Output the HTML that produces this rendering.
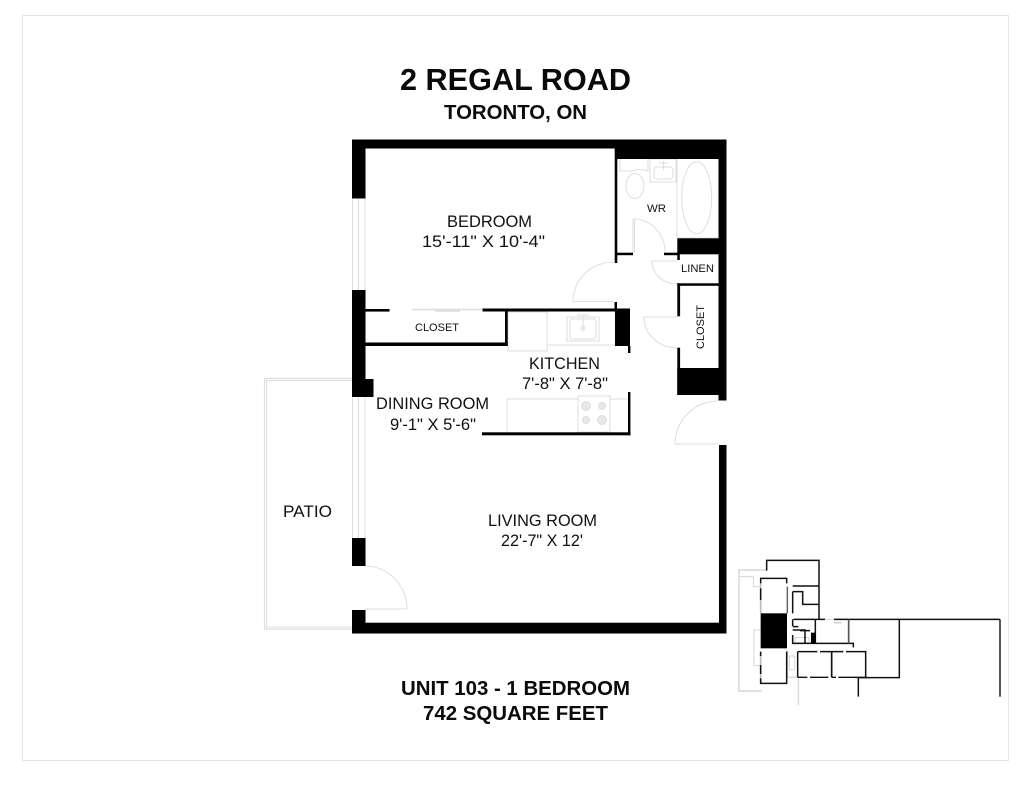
<!DOCTYPE html>
<html>
<head>
<meta charset="utf-8">
<style>
html,body{margin:0;padding:0;background:#fff;}
svg{display:block;}
text{font-family:"Liberation Sans",sans-serif;fill:#111;}
.b{font-weight:bold;fill:#0a0a0a;}
</style>
</head>
<body>
<svg width="1024" height="791" viewBox="0 0 1024 791" xmlns="http://www.w3.org/2000/svg">
<rect x="0" y="0" width="1024" height="791" fill="#fff"/>
<rect x="22.5" y="15.5" width="986" height="745" fill="#fff" stroke="#e4e4e4" stroke-width="1"/>

<!-- Titles -->
<text class="b" x="400" y="90" font-size="30.6" textLength="231" lengthAdjust="spacingAndGlyphs">2 REGAL ROAD</text>
<text class="b" x="444" y="119" font-size="20.4" textLength="143" lengthAdjust="spacingAndGlyphs">TORONTO, ON</text>
<text class="b" x="401" y="695" font-size="20.4" textLength="229" lengthAdjust="spacingAndGlyphs">UNIT 103 - 1 BEDROOM</text>
<text class="b" x="423" y="720" font-size="20.4" textLength="185" lengthAdjust="spacingAndGlyphs">742 SQUARE FEET</text>

<!-- Grey fine lines -->
<g fill="none" stroke="#dedede" stroke-width="1">
  <!-- windows -->
  <path d="M352.5 198V290M358.5 198V290M365 198V290"/>
  <path d="M352.5 397V538M358.5 397V538M365 397V538"/>
  <!-- patio -->
  <path d="M352 378.5H264.5V629H352" stroke-width="1.2"/>
  <path d="M352 380.5H266.5V627H352"/>
  <!-- patio door -->
  <path d="M365 566A42 43 0 0 1 407 609H365"/>
  <!-- closet sliders -->
  <path d="M412 309.5H482M435 311H460" stroke-width="1.5"/>
  <!-- entry door -->
  <path d="M718 401A43 43 0 0 0 675 444H718" />
  <!-- closet door -->
  <path d="M644 317H677M644 317A33 31 0 0 0 677 348"/>
  <!-- bedroom door -->
  <path d="M573 301.5H614M573 301.5A41 39 0 0 1 614 262"/>
  <!-- linen door -->
  <path d="M652 261H677M652 261A25 23 0 0 0 677 284"/>
  <!-- WR door -->
  <path d="M633 219V253M634.5 219V253M633 219A32 33 0 0 1 665 252"/>
  <!-- bath -->
  <path d="M677 159V238H718"/>
  <ellipse cx="696.7" cy="197.7" rx="15" ry="36"/>
  <ellipse cx="635" cy="186" rx="9" ry="12.5"/>
  <path d="M620 159V171H632Q640 168 648 171V159"/>
  <rect x="650" y="159" width="26" height="23"/>
  <rect x="654" y="167" width="19" height="12" rx="3"/>
  <path d="M659 163H668M663.5 161V170"/>
  <!-- kitchen -->
  <rect x="508" y="312" width="39" height="39"/>
  <path d="M547 345H615"/>
  <rect x="567" y="317" width="32" height="24"/>
  <rect x="570" y="319" width="26" height="20" rx="2"/>
  <path d="M583 315V330M577 315H589"/>
  <circle cx="583" cy="328" r="2"/>
  <path d="M507 399H578M610 399H628M507 399V432"/>
  <rect x="578" y="396" width="32" height="36"/>
  <circle cx="586" cy="406" r="4.5" fill="#e8e8e8"/>
  <circle cx="602" cy="406" r="3.5" fill="#e8e8e8"/>
  <circle cx="586" cy="420" r="3.5" fill="#e8e8e8"/>
  <circle cx="602" cy="420" r="4.5" fill="#e8e8e8"/>
</g>

<!-- Black walls -->
<g fill="#000">
  <rect x="352" y="139.5" width="374.5" height="9"/>
  <rect x="615" y="139.5" width="111.5" height="19.5"/>
  <rect x="352" y="139.5" width="13.5" height="59"/>
  <rect x="352" y="290" width="13.5" height="107"/>
  <rect x="365" y="379" width="8.5" height="18"/>
  <rect x="352" y="538" width="13.5" height="28"/>
  <rect x="352" y="610" width="13.5" height="23.5"/>
  <rect x="352" y="622.7" width="374.5" height="10.8"/>
  <rect x="718.5" y="139.5" width="8" height="261"/>
  <rect x="719" y="445" width="7.5" height="188"/>
  <!-- bedroom/bath wall -->
  <rect x="614.7" y="148" width="2.6" height="115"/>
  <rect x="617" y="252.7" width="16" height="2.5"/>
  <rect x="664" y="252.7" width="15" height="2.5"/>
  <rect x="677.3" y="238.3" width="41.5" height="16"/>
  <rect x="677.3" y="254" width="2.5" height="6"/>
  <rect x="677.3" y="283.3" width="41.5" height="2.5"/>
  <rect x="677.3" y="283.3" width="2.8" height="33"/>
  <rect x="677.3" y="347.7" width="2.8" height="47.3"/>
  <rect x="677.3" y="368" width="41.5" height="27"/>
  <!-- closet -->
  <rect x="365" y="309" width="24.5" height="2.6"/>
  <rect x="482.5" y="308.5" width="133.5" height="3"/>
  <rect x="365" y="342.5" width="142.7" height="3.5"/>
  <rect x="505" y="308.5" width="2.7" height="37.5"/>
  <!-- kitchen -->
  <rect x="614.5" y="302" width="2.5" height="9"/>
  <rect x="615" y="308.5" width="15" height="37.5"/>
  <rect x="628" y="346" width="2.4" height="7"/>
  <rect x="628" y="392" width="2.4" height="43.3"/>
  <rect x="482" y="432.3" width="148.4" height="3"/>
</g>

<!-- Room labels -->
<text x="447" y="227" font-size="16.4" textLength="85" lengthAdjust="spacingAndGlyphs">BEDROOM</text>
<text x="422" y="247" font-size="16.4" textLength="123" lengthAdjust="spacingAndGlyphs">15'-11" X 10'-4"</text>
<text x="647" y="212" font-size="11.4" textLength="19" lengthAdjust="spacingAndGlyphs">WR</text>
<text x="681" y="272" font-size="11.2" textLength="33" lengthAdjust="spacingAndGlyphs">LINEN</text>
<text x="415" y="331" font-size="11" textLength="44" lengthAdjust="spacingAndGlyphs">CLOSET</text>
<text transform="translate(704,349) rotate(-90)" x="0" y="0" font-size="11" textLength="44" lengthAdjust="spacingAndGlyphs">CLOSET</text>
<text x="529" y="369" font-size="16.4" textLength="71" lengthAdjust="spacingAndGlyphs">KITCHEN</text>
<text x="522" y="389" font-size="16.4" textLength="86" lengthAdjust="spacingAndGlyphs">7'-8" X 7'-8"</text>
<text x="376" y="409" font-size="16.4" textLength="113" lengthAdjust="spacingAndGlyphs">DINING ROOM</text>
<text x="390" y="430" font-size="16.4" textLength="86" lengthAdjust="spacingAndGlyphs">9'-1" X 5'-6"</text>
<text x="488" y="526" font-size="16.4" textLength="109" lengthAdjust="spacingAndGlyphs">LIVING ROOM</text>
<text x="501" y="546" font-size="16.4" textLength="82" lengthAdjust="spacingAndGlyphs">22'-7" X 12'</text>
<text x="283" y="517" font-size="16.4" textLength="49" lengthAdjust="spacingAndGlyphs">PATIO</text>

<!-- Key plan -->
<g transform="translate(730,550) scale(0.33333)">
  <g fill="none" stroke="#dcdcdc" stroke-width="5">
    <path d="M108 60H27V423H95"/>
    <path d="M205 382V466"/>
    <path d="M172 300V382H203"/>
    <path d="M92 100V190M92 305V400" stroke="#bbb"/>
  </g>
  <g fill="none" stroke="#d0d0d0" stroke-width="2.5">
    <path d="M27 80H70V110H92M92 240H72V347H92"/>
    <rect x="178" y="318" width="16" height="40"/>
    <rect x="195" y="262" width="42" height="16"/>
    <path d="M285 208H312"/>
    <path d="M312 218H335" stroke-width="5"/>
  </g>
  <g fill="none" stroke="#111" stroke-width="4.5">
    <path d="M110 62V31H267V207"/>
    <path d="M92 100V85H170V100"/>
    <path d="M92 115V150M92 305V318M92 345V372M92 385V400H170V305"/>
    <path d="M172 110V190" stroke-width="4.5" stroke="#666"/>
    <path d="M188 108H267M188 125V190M188 125H218V140M218 140V163H267"/>
    <path d="M190 208H285M312 208H810"/>
    <path d="M256 208V280M188 208V228M188 240H225V280M188 255V280H370V292"/>
    <path d="M356 208V280" stroke="#555" stroke-width="5"/>
    <path d="M508 208V383H385V440"/>
    <path d="M810 208V440" stroke="#333" stroke-width="5"/>
    <path d="M203 305H262M270 305H340M348 305H407V382H375M203 305V382"/>
    <path d="M305 305V382" stroke-width="5"/>
    <path d="M203 382H232M240 382H295M305 382H318M325 382H375" stroke-width="4"/>
    <path d="M210 242H240M188 230H205"/>
  </g>
  <rect x="92" y="190" width="79" height="105" fill="#000"/>
  <rect x="243" y="248" width="14" height="32" fill="#000"/>
</g>
</svg>
</body>
</html>
